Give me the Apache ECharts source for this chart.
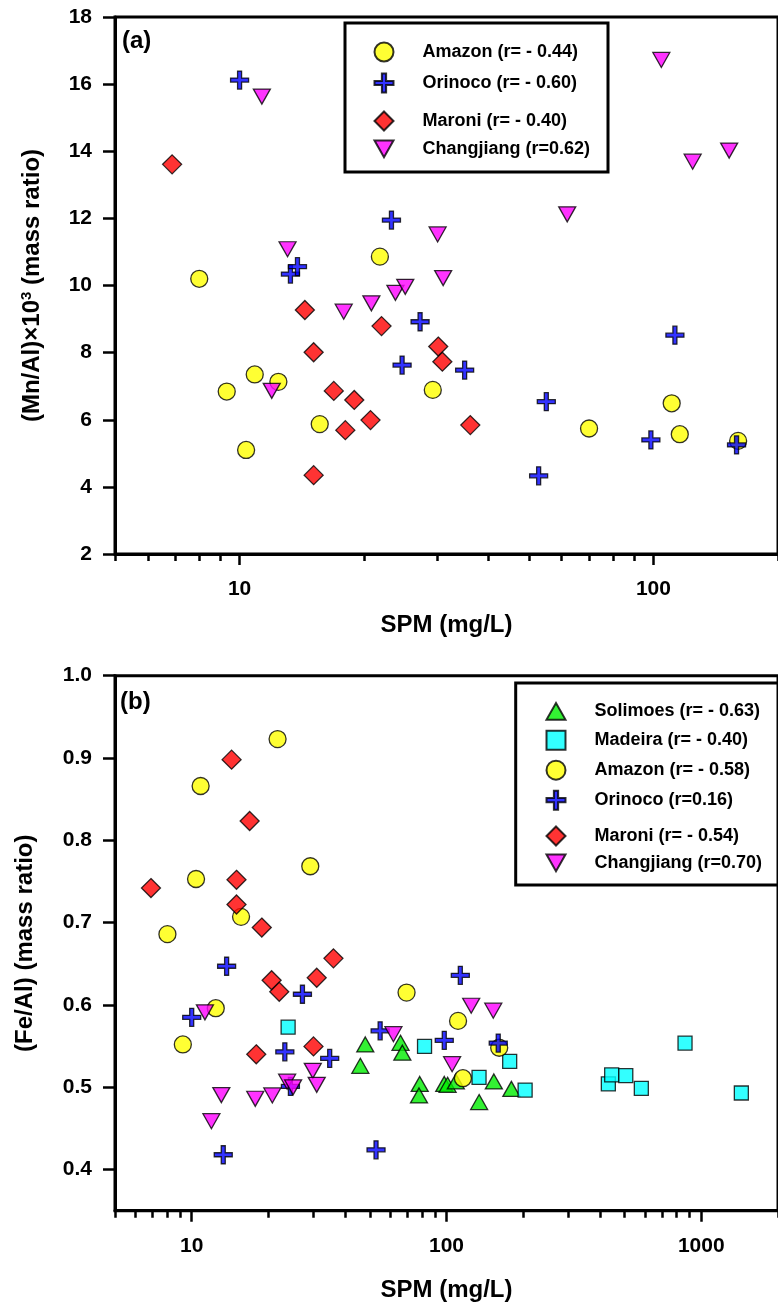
<!DOCTYPE html>
<html>
<head>
<meta charset="utf-8">
<script src="https://cdn.jsdelivr.net/npm/echarts@6/dist/echarts.min.js"></script>
<style>
html,body{margin:0;padding:0;background:#fff;}
#chart{width:778px;height:1306px;}
</style>
</head>
<body>
<div id="chart"></div>
<script>
// ---------- Panel (a): SPM (mg/L) vs (Mn/Al)x10^3 ----------
const amazonA = [[7.99,10.20],[9.31,6.84],[10.37,5.10],[10.88,7.35],[12.41,7.13],[15.62,5.87],[21.83,10.86],[29.3,6.89],[69.9,5.74],[110.7,6.49],[115.8,5.57],[160.2,5.37]];
const orinocoA = [[10.0,16.12],[13.27,10.34],[13.80,10.56],[23.28,11.95],[24.7,7.63],[27.3,8.92],[34.98,7.48],[52.8,4.33],[55.1,6.54],[98.6,5.40],[112.7,8.52],[158.8,5.25]];
const maroniA = [[6.87,13.61],[14.38,9.27],[15.1,8.01],[15.1,4.35],[16.89,6.86],[18.01,5.69],[18.93,6.59],[20.72,5.99],[22.03,8.79],[30.2,8.18],[30.9,7.73],[36.1,5.84]];
const changjiangA = [[11.32,15.63],[11.96,6.86],[13.06,11.08],[17.85,9.22],[20.82,9.47],[23.8,9.78],[25.14,9.96],[30.1,11.52],[31.04,10.22],[61.9,12.12],[104.5,16.72],[124.4,13.69],[152.4,14.02]];

// ---------- Panel (b): SPM (mg/L) vs (Fe/Al) ----------
const solimoesB = [[48.0,0.552],[45.9,0.526],[66.0,0.554],[67.1,0.542],[78.5,0.504],[78.0,0.490],[98.0,0.504],[101,0.503],[108.8,0.507],[153.4,0.507],[134.3,0.482],[179.7,0.498]];
const madeiraB = [[23.9,0.573],[82.0,0.5496],[134.2,0.512],[177,0.5314],[203.5,0.4966],[431.7,0.504],[444.9,0.515],[505.4,0.514],[581.6,0.4987],[863.3,0.5536],[1436,0.493]];
const amazonB = [[21.73,0.923],[10.84,0.866],[29.2,0.7685],[10.40,0.753],[15.62,0.707],[8.03,0.686],[12.43,0.596],[9.23,0.552],[69.7,0.615],[111,0.5806],[161,0.548],[116,0.511]];
const orinocoB = [[13.71,0.647],[27.2,0.613],[10.0,0.585],[23.2,0.543],[34.8,0.535],[54.9,0.5685],[24.4,0.501],[13.30,0.418],[52.9,0.424],[113.3,0.636],[98.0,0.557],[159.6,0.5536]];
const maroniB = [[14.34,0.898],[16.88,0.8235],[14.99,0.752],[6.92,0.742],[14.99,0.722],[18.84,0.694],[36.0,0.6566],[20.59,0.630],[22.06,0.616],[30.95,0.633],[17.92,0.540],[30.06,0.5496]];
const changjiangB = [[11.27,0.591],[61.9,0.5645],[29.87,0.520],[30.95,0.503],[23.69,0.5067],[25.0,0.4999],[20.72,0.490],[17.76,0.486],[13.07,0.4905],[11.95,0.4587],[125,0.599],[152.6,0.593],[105.2,0.528]];

// ---------- Tick labels ----------
const xMajorA = [10, 100];
const xMinorA = [5,6,7,8,9,20,30,40,50,60,70,80,90,200];
const xMajorB = [10, 100, 1000];
const xMinorB = [5,6,7,8,9,20,30,40,50,60,70,80,90,200,300,400,500,600,700,800,900,2000];
const yTicksB = [0.4,0.5,0.6,0.7,0.8,0.9,1.0];

const FONT = 'Liberation Sans, Arial, Helvetica, sans-serif';
const PLUS = 'path://M7,0H11V7H18V11H11V18H7V11H0V7H7Z';
const TRI_DOWN = 'path://M0,0H20L10,17.5Z';
const TRI_UP = 'path://M10,0L20,17.5H0Z';
const border = {borderColor:'#000', borderWidth:1.3};

const chart = echarts.init(document.getElementById('chart'), null, {renderer:'canvas'});

function majorX(grid, min, max, ticks, nameGap){
  return {
    type:'log', gridIndex:grid, min:min, max:max, position:'bottom',
    axisLine:{show:true, onZero:false, lineStyle:{color:'#000', width:3}},
    axisTick:{show:true, inside:false, length:11, customValues:ticks, lineStyle:{color:'#000', width:2.5}},
    axisLabel:{show:true, customValues:ticks, margin:25, color:'#000', fontSize:21, fontWeight:'bold', fontFamily:FONT,
               formatter:(v)=>String(Math.round(v))},
    splitLine:{show:false}, minorTick:{show:false},
    name:'SPM (mg/L)', nameLocation:'middle', nameGap:nameGap,
    nameTextStyle:{color:'#000', fontSize:24, fontWeight:'bold', fontFamily:FONT}
  };
}
function minorX(grid, min, max, ticks){
  return {
    type:'log', gridIndex:grid, min:min, max:max, position:'bottom',
    axisLine:{show:false, onZero:false},
    axisTick:{show:true, inside:false, length:7, customValues:ticks, lineStyle:{color:'#000', width:2.5}},
    axisLabel:{show:false}, splitLine:{show:false}
  };
}
function legendBox(names, left, top, gap, pad){
  return {
    data:names, orient:'vertical', left:left, top:top, padding:0,
    itemWidth:19, itemHeight:19, itemGap:gap, selectedMode:false,
    textStyle:{fontSize:18, fontWeight:'bold', fontFamily:FONT, color:'#000', padding:[0,0,0,pad], lineHeight:18}
  };
}

const option = {
  animation:false,
  backgroundColor:'#fff',
  grid:[
    {left:115, top:17, width:671, height:537, show:true, borderColor:'#000', borderWidth:3, backgroundColor:'transparent'},
    {left:115, top:675.7, width:671, height:535, show:true, borderColor:'#000', borderWidth:3, backgroundColor:'transparent'}
  ],
  xAxis:[
    majorX(0, 5, 200, xMajorA, 59),
    minorX(0, 5, 200, xMinorA),
    majorX(1, 5, 2000, xMajorB, 68),
    minorX(1, 5, 2000, xMinorB)
  ],
  yAxis:[
    {type:'value', gridIndex:0, min:2, max:18, interval:2,
     axisLine:{show:true, onZero:false, lineStyle:{color:'#000', width:3}},
     axisTick:{show:true, inside:false, length:12, lineStyle:{color:'#000', width:2.5}},
     axisLabel:{margin:23, color:'#000', fontSize:21, fontWeight:'bold', fontFamily:FONT},
     splitLine:{show:false},
     name:'(Mn/Al)×10{sup|3} (mass ratio)', nameLocation:'middle', nameGap:70,
     nameTextStyle:{color:'#000', fontSize:24, fontWeight:'bold', fontFamily:FONT,
       rich:{sup:{fontSize:15, fontWeight:'bold', fontFamily:FONT, color:'#000', verticalAlign:'top', lineHeight:26}}}
    },
    {type:'value', gridIndex:1, min:0.35, max:1.0,
     axisLine:{show:true, onZero:false, lineStyle:{color:'#000', width:3}},
     axisTick:{show:true, inside:false, length:12, customValues:yTicksB, lineStyle:{color:'#000', width:2.5}},
     axisLabel:{margin:23, customValues:yTicksB, color:'#000', fontSize:21, fontWeight:'bold', fontFamily:FONT,
                formatter:(v)=>Number(v).toFixed(1)},
     splitLine:{show:false},
     name:'(Fe/Al) (mass ratio)', nameLocation:'middle', nameGap:78,
     nameTextStyle:{color:'#000', fontSize:24, fontWeight:'bold', fontFamily:FONT}
    }
  ],
  legend:[
    legendBox(['Amazon (r= - 0.44)','Orinoco (r= - 0.60)'], 373.5, 41.5, 10, 24),
    legendBox(['Maroni (r= - 0.40)','Changjiang (r=0.62)'], 373.5, 110.5, 8, 24),
    legendBox(['Solimoes (r= - 0.63)','Madeira (r= - 0.40)','Amazon (r= - 0.58)','Orinoco (r=0.16)'], 545.5, 702, 9, 24),
    legendBox(['Maroni (r= - 0.54)','Changjiang (r=0.70)'], 545.5, 825.5, 7, 24)
  ],
  graphic:[
    {type:'rect', shape:{x:345, y:23, width:263, height:149}, style:{fill:'#fff', stroke:'#000', lineWidth:3}, z:-1, silent:true},
    {type:'rect', shape:{x:515.7, y:683, width:290, height:202}, style:{fill:'#fff', stroke:'#000', lineWidth:3}, z:-1, silent:true},
    {type:'text', x:122, y:29, style:{text:'(a)', font:'bold 24px '+FONT, fill:'#000'}, silent:true},
    {type:'text', x:120, y:690, style:{text:'(b)', font:'bold 24px '+FONT, fill:'#000'}, silent:true}
  ],
  series:[
    {name:'Amazon (r= - 0.44)', type:'scatter', xAxisIndex:0, yAxisIndex:0, data:amazonA,
     symbol:'circle', symbolSize:17, itemStyle:Object.assign({color:'#ffff00'}, border)},
    {name:'Orinoco (r= - 0.60)', type:'scatter', xAxisIndex:0, yAxisIndex:0, data:orinocoA,
     symbol:PLUS, symbolSize:18, itemStyle:Object.assign({color:'#0000ff'}, border)},
    {name:'Maroni (r= - 0.40)', type:'scatter', xAxisIndex:0, yAxisIndex:0, data:maroniA,
     symbol:'diamond', symbolSize:19, itemStyle:Object.assign({color:'#ff0000'}, border)},
    {name:'Changjiang (r=0.62)', type:'scatter', xAxisIndex:0, yAxisIndex:0, data:changjiangA,
     symbol:TRI_DOWN, symbolSize:[17,15], itemStyle:Object.assign({color:'#ff00ff'}, border)},

    {name:'Solimoes (r= - 0.63)', type:'scatter', xAxisIndex:2, yAxisIndex:1, data:solimoesB,
     symbol:TRI_UP, symbolSize:[17,15], itemStyle:Object.assign({color:'#00ee00'}, border)},
    {name:'Madeira (r= - 0.40)', type:'scatter', xAxisIndex:2, yAxisIndex:1, data:madeiraB,
     symbol:'rect', symbolSize:14, itemStyle:Object.assign({color:'#00ffff'}, border)},
    {name:'Amazon (r= - 0.58)', type:'scatter', xAxisIndex:2, yAxisIndex:1, data:amazonB,
     symbol:'circle', symbolSize:17, itemStyle:Object.assign({color:'#ffff00'}, border)},
    {name:'Orinoco (r=0.16)', type:'scatter', xAxisIndex:2, yAxisIndex:1, data:orinocoB,
     symbol:PLUS, symbolSize:18, itemStyle:Object.assign({color:'#0000ff'}, border)},
    {name:'Maroni (r= - 0.54)', type:'scatter', xAxisIndex:2, yAxisIndex:1, data:maroniB,
     symbol:'diamond', symbolSize:19, itemStyle:Object.assign({color:'#ff0000'}, border)},
    {name:'Changjiang (r=0.70)', type:'scatter', xAxisIndex:2, yAxisIndex:1, data:changjiangB,
     symbol:TRI_DOWN, symbolSize:[17,15], itemStyle:Object.assign({color:'#ff00ff'}, border)}
  ]
};
chart.setOption(option);
</script>
</body>
</html>
